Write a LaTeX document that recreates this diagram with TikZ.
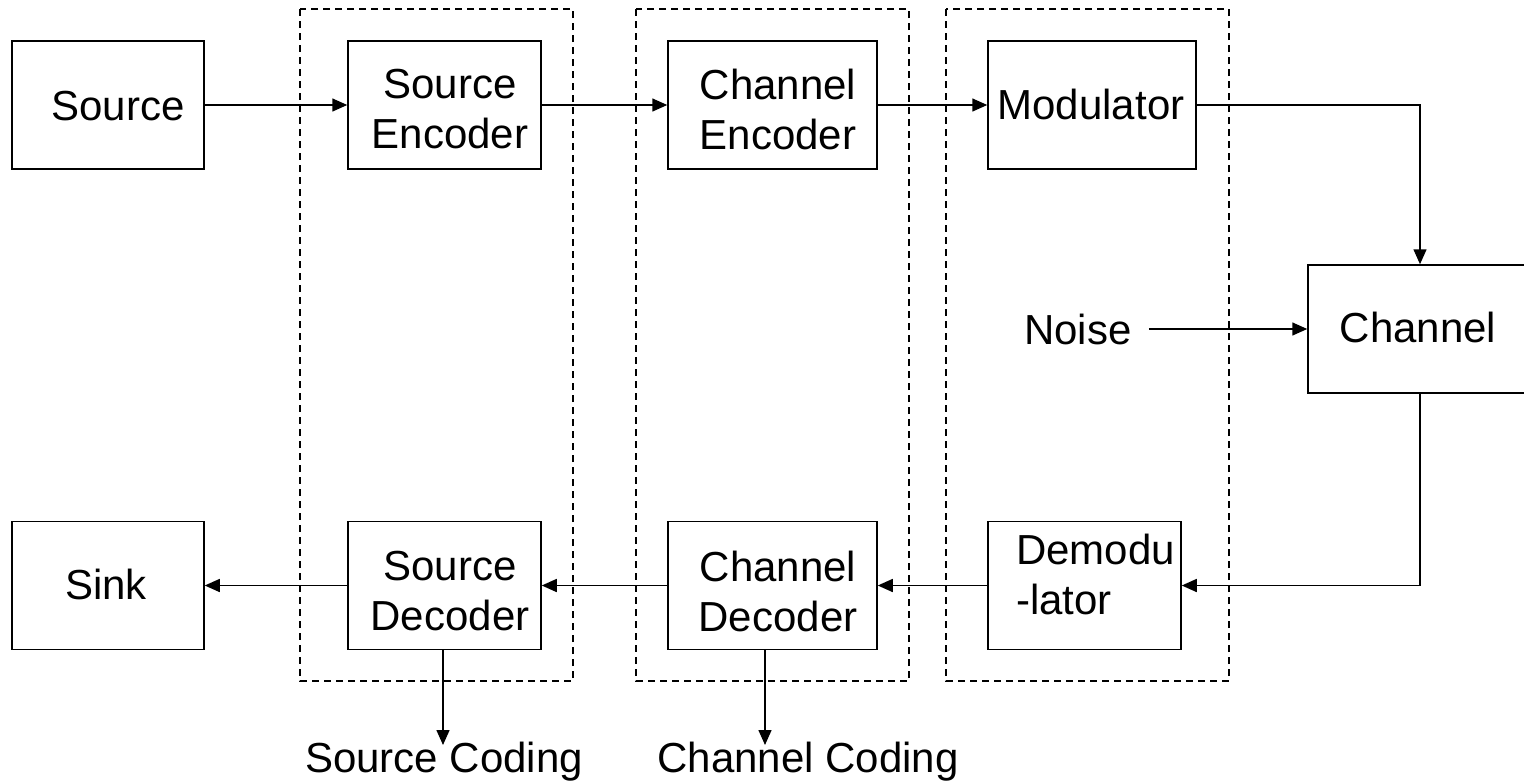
\documentclass[tikz,border=0pt]{standalone}
\usepackage{fontspec}
\setmainfont{Liberation Sans}
\usetikzlibrary{arrows.meta}
\begin{document}
\begin{tikzpicture}[x=1pt,y=-1pt,
  blk/.style={draw,line width=1.5pt,inner sep=0pt,minimum height=128pt},
  txt/.style={inner sep=0pt,font=\fontsize{42}{50}\selectfont,align=center},
  arr/.style={line width=1.5pt,-{Triangle[length=15pt,width=13pt]}},
  grp/.style={draw,line width=1.2pt,dash pattern=on 7pt off 5pt}]
\useasboundingbox (0,0) rectangle (1524,782);
% dashed groups
\draw[grp] (300,9) rectangle (573,681);
\draw[grp] (636,9) rectangle (909,681);
\draw[grp] (946,9) rectangle (1229,681);
% boxes
\node[blk,minimum width=192pt] (src) at (108,105) {};
\node[blk,minimum width=193pt] (se) at (444.5,105) {};
\node[blk,minimum width=209pt] (ce) at (772.5,105) {};
\node[blk,minimum width=208pt] (mod) at (1092,105) {};
\node[blk,minimum width=224pt] (chan) at (1420,329) {};
\node[blk,minimum width=192pt] (sink) at (108,585.5) {};
\node[blk,minimum width=193pt] (sd) at (444.5,585.5) {};
\node[blk,minimum width=209pt] (cd) at (772.5,585.5) {};
\node[blk,minimum width=193pt] (dem) at (1084.5,585.5) {};
% texts
\node[txt] (srcT) at (118,106) {Source};
\node[txt] (seT) at (450,109) {Source\\Encoder};
\node[txt] (ceT) at (778,109) {Channel\\Encoder};
\node[txt] (modT) at (1091,104) {Modulator};
\node[txt] (chanT) at (1418,327) {Channel};
\node[txt,inner xsep=17pt] (noise) at (1078,329) {Noise};
\node[txt] (sinkT) at (106,584) {Sink};
\node[txt] (sdT) at (450,591) {Source\\Decoder};
\node[txt] (cdT) at (778,591) {Channel\\Decoder};
\node[txt,align=left,anchor=west] (demT) at (1016,574) {Demodu\\-lator};
\node[txt] (scT) at (444,762) {Source Coding};
\node[txt] (ccT) at (808,762) {Channel Coding};
\coordinate (scEnd) at (443,745);
\coordinate (ccEnd) at (765,745);
% connectors
\draw[arr] (src.east) -- (se.west);
\draw[arr] (se.east) -- (ce.west);
\draw[arr] (ce.east) -- (mod.west);
\draw[arr] (mod.east) -| (chan.north);
\draw[arr] (chan.south) |- (dem.east);
\draw[arr] (dem.west) -- (cd.east);
\draw[arr] (cd.west) -- (sd.east);
\draw[arr] (sd.west) -- (sink.east);
\draw[arr] (noise.east) -- (noise.east -| chan.west);
\draw[arr] (sd.south -| scEnd) -- (scEnd);
\draw[arr] (cd.south -| ccEnd) -- (ccEnd);
\end{tikzpicture}
\end{document}
